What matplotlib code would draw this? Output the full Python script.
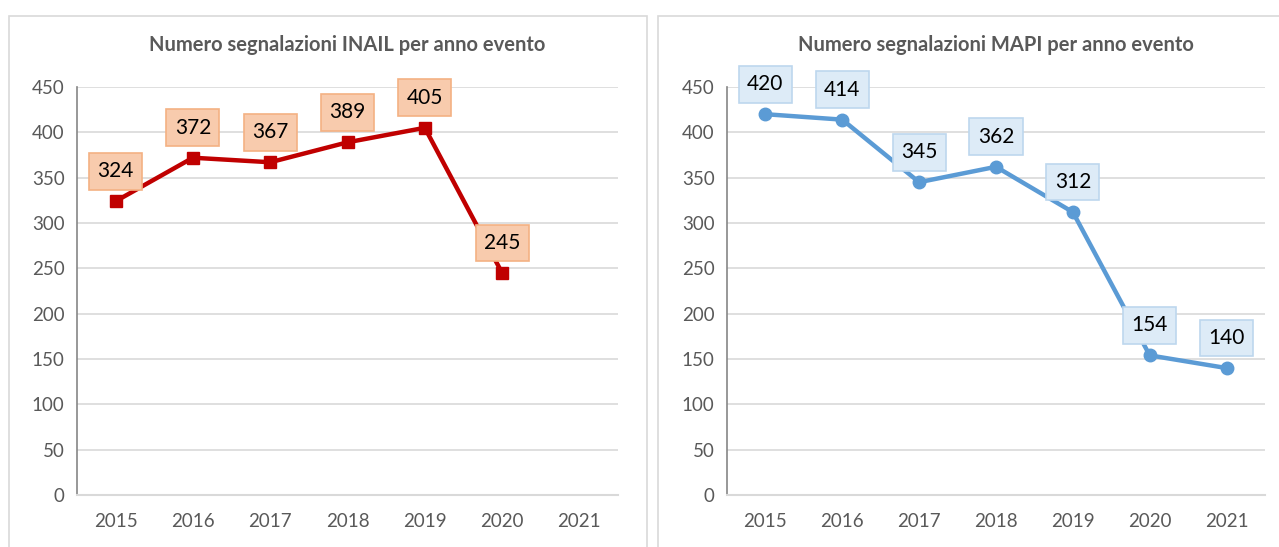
import matplotlib
matplotlib.use("Agg")
import matplotlib.pyplot as plt
from matplotlib.patches import Rectangle

plt.rcParams['font.family'] = ['Lato', 'DejaVu Sans']

years = ["2015", "2016", "2017", "2018", "2019", "2020", "2021"]
inail = [324, 372, 367, 389, 405, 245]
mapi = [420, 414, 345, 362, 312, 154, 140]
yticks = [0, 50, 100, 150, 200, 250, 300, 350, 400, 450]
title_inail = "Numero segnalazioni INAIL per anno evento"
title_mapi = "Numero segnalazioni MAPI per anno evento"

W, H = 1279, 547
fig = plt.figure(figsize=(W / 100, H / 100), dpi=100)

# panel borders
for (x0, x1) in [(9, 647), (658, 1290)]:
    fig.add_artist(Rectangle((x0 / W, -0.05), (x1 - x0) / W, (H - 16) / H + 0.05,
                             transform=fig.transFigure, fill=False,
                             edgecolor="#D9D9D9", linewidth=1.2))

grey = "#595959"

def make_ax(left_px, right_px, values, title, color, marker, face, edge):
    ax = fig.add_axes([left_px / W, 1 - 495 / H, (right_px - left_px) / W, (495 - 87) / H])
    x = list(range(len(values)))
    ax.plot(x, values, color=color, linewidth=3.2, marker=marker, markersize=8.5 if marker == 's' else 9,
            markerfacecolor=color, markeredgecolor=color, zorder=3, solid_capstyle='round')
    for xi, v in zip(x, values):
        ax.annotate(str(v), (xi, v), xytext=(0, 30), textcoords='offset pixels',
                    ha='center', va='center', fontsize=15, color='black',
                    bbox=dict(boxstyle='square,pad=0.4', facecolor=face, edgecolor=edge, linewidth=1.2),
                    zorder=4)
    ax.set_xlim(-0.5, len(years) - 0.5)
    ax.set_ylim(0, 450)
    ax.set_xticks(range(len(years)))
    ax.set_xticklabels(years)
    ax.set_yticks(yticks)
    ax.tick_params(axis='both', length=0, labelsize=13.5, labelcolor=grey)
    ax.tick_params(axis='x', pad=13)
    ax.tick_params(axis='y', pad=9)
    ax.grid(axis='y', color='#D9D9D9', linewidth=1.2)
    ax.set_axisbelow(True)
    for s in ['top', 'right']:
        ax.spines[s].set_visible(False)
    ax.spines['left'].set_color('#868686')
    ax.spines['left'].set_linewidth(1.2)
    ax.spines['bottom'].set_color('#D9D9D9')
    ax.spines['bottom'].set_linewidth(1.5)
    cx = (left_px + right_px) / 2 / W
    fig.text(cx, 1 - 45 / H, title, ha='center', va='center', fontsize=14.5,
             fontweight='bold', color=grey)
    return ax

make_ax(77, 618, inail, title_inail, '#C00000', 's', '#F8CBAD', '#F4B183')
make_ax(727, 1265, mapi, title_mapi, '#5B9BD5', 'o', '#DDEBF7', '#BDD7EE')

fig.savefig("out.png", dpi=100)
